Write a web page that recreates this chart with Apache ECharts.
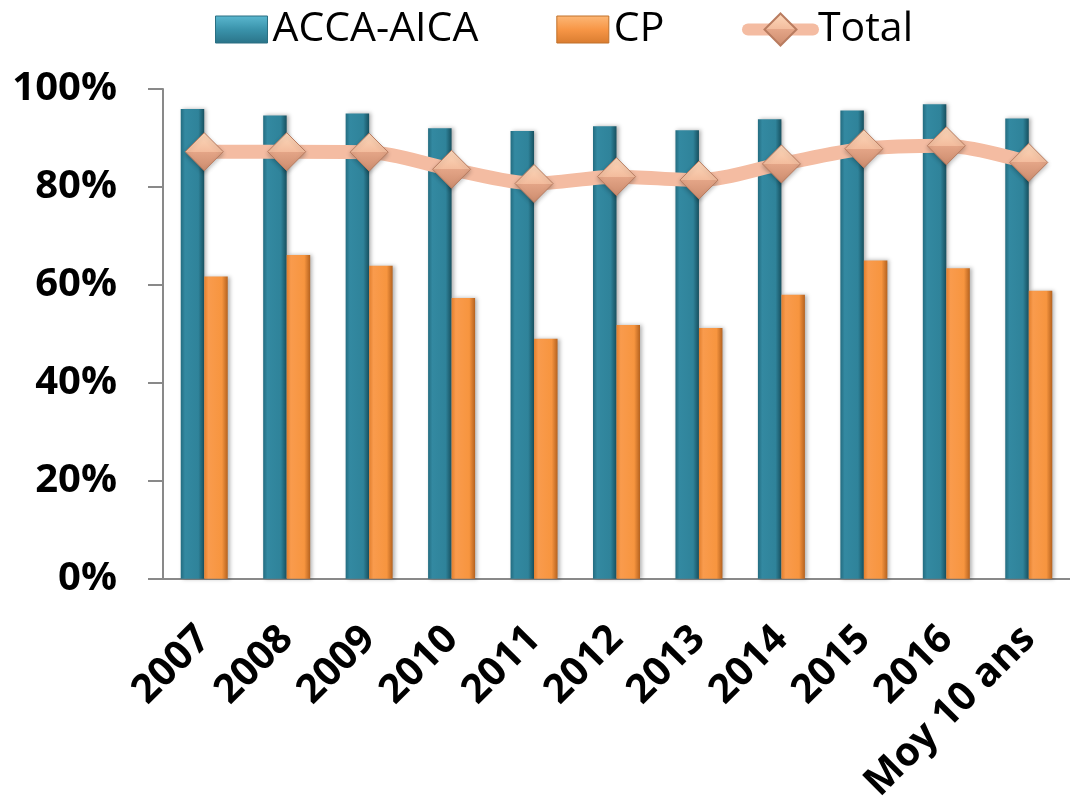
<!DOCTYPE html>
<html><head><meta charset="utf-8">
<script src="https://cdn.jsdelivr.net/npm/echarts@6/dist/echarts.min.js"></script>
<style>html,body{margin:0;padding:0;background:#fff}#c{width:1070px;height:806px}</style>
</head><body><div id="c"></div>
<script>
const categories = ['2007','2008','2009','2010','2011','2012','2013','2014','2015','2016','Moy 10 ans'];
const accaAica = [95.9, 94.6, 95.0, 92.0, 91.4, 92.4, 91.6, 93.8, 95.6, 96.9, 94.0];
const cp = [61.7, 66.1, 63.9, 57.3, 49.0, 51.8, 51.2, 58.0, 65.0, 63.4, 58.8];
const total = [87.2, 87.2, 87.1, 83.6, 80.7, 82.1, 81.4, 84.7, 87.8, 88.4, 85.0];
const seriesNames = ['ACCA-AICA', 'CP', 'Total'];

const G = echarts.graphic.LinearGradient;
const tealFill = new G(0,0,1,0,[{offset:0,color:'#236C80'},{offset:0.18,color:'#3389A1'},{offset:0.75,color:'#2F839A'},{offset:1,color:'#17505F'}]);
const orangeFill = new G(0,0,1,0,[{offset:0,color:'#E27F2E'},{offset:0.18,color:'#F99B4D'},{offset:0.75,color:'#F7953F'},{offset:1,color:'#B5621F'}]);
const tealLegend = new G(0,0,0,1,[{offset:0,color:'#5BB8D0'},{offset:0.5,color:'#3A93AB'},{offset:1,color:'#2A7388'}]);
const orangeLegend = new G(0,0,0,1,[{offset:0,color:'#FDB877'},{offset:0.5,color:'#F79646'},{offset:1,color:'#D97C30'}]);
const diamondFill = new G(0,0,0,1,[{offset:0,color:'#FDDABD'},{offset:0.5,color:'#F3BC9D'},{offset:0.5,color:'#E4A587'},{offset:1,color:'#CC8C6E'}]);
const labelFont = '"Open Sans", Lato, sans-serif';
const legendFont = '"Open Sans", "Liberation Sans", sans-serif';

const chart = echarts.init(document.getElementById('c'), null, {renderer:'canvas'});
chart.setOption({
  animation: false,
  backgroundColor: '#ffffff',
  legend: [{
    data: [
      {name: seriesNames[0], itemStyle: {color: tealLegend, borderColor: '#2A6F82', borderWidth: 1}},
      {name: seriesNames[1], itemStyle: {color: orangeLegend, borderColor: '#C0702A', borderWidth: 1}}
    ],
    left: 210, top: 4,
    itemWidth: 52, itemHeight: 27, itemGap: 78,
    icon: 'rect',
    textStyle: {fontFamily: legendFont, fontSize: 41, color: '#000'}
  },{
    data: [seriesNames[2]],
    left: 737, top: 4,
    itemWidth: 65, itemHeight: 40,
    textStyle: {fontFamily: legendFont, fontSize: 41, color: '#000'},
    lineStyle: {width: 12, cap: 'round'}
  }],
  grid: {left: 163, right: -6, top: 89, bottom: 227, containLabel: false},
  xAxis: {
    type: 'category',
    data: categories,
    axisLine: {lineStyle: {color: '#898989', width: 2}},
    axisTick: {length: 14, lineStyle: {color: '#898989', width: 2}},
    axisLabel: {rotate: 45, margin: 54, fontFamily: labelFont, fontWeight: 'bold', fontSize: 40, color: '#000', interval: 0}
  },
  yAxis: {
    type: 'value', min: 0, max: 100, interval: 20,
    axisLine: {show: true, lineStyle: {color: '#898989', width: 2}},
    axisTick: {show: true, length: 15, lineStyle: {color: '#898989', width: 2}},
    splitLine: {show: false},
    axisLabel: {formatter: '{value}%', margin: 46, fontFamily: labelFont, fontWeight: 'bold', fontSize: 40, color: '#000'}
  },
  series: [{
    name: seriesNames[0], type: 'bar', data: accaAica,
    barGap: '0%', barCategoryGap: '43%',
    itemStyle: {color: tealFill, shadowBlur: 4, shadowOffsetX: 2, shadowColor: 'rgba(0,0,0,0.3)'}
  },{
    name: seriesNames[1], type: 'bar', data: cp,
    itemStyle: {color: orangeFill, shadowBlur: 4, shadowOffsetX: 2, shadowColor: 'rgba(0,0,0,0.3)'}
  },{
    name: seriesNames[2], type: 'line', data: total, smooth: 0.3,
    symbol: 'diamond', symbolSize: 38,
    lineStyle: {color: '#F4BCA2', width: 14, cap: 'round'},
    itemStyle: {color: diamondFill, borderColor: '#B97C60', borderWidth: 1, shadowBlur: 4, shadowOffsetY: 2, shadowColor: 'rgba(0,0,0,0.25)'},
    z: 5
  }]
});
</script></body></html>
